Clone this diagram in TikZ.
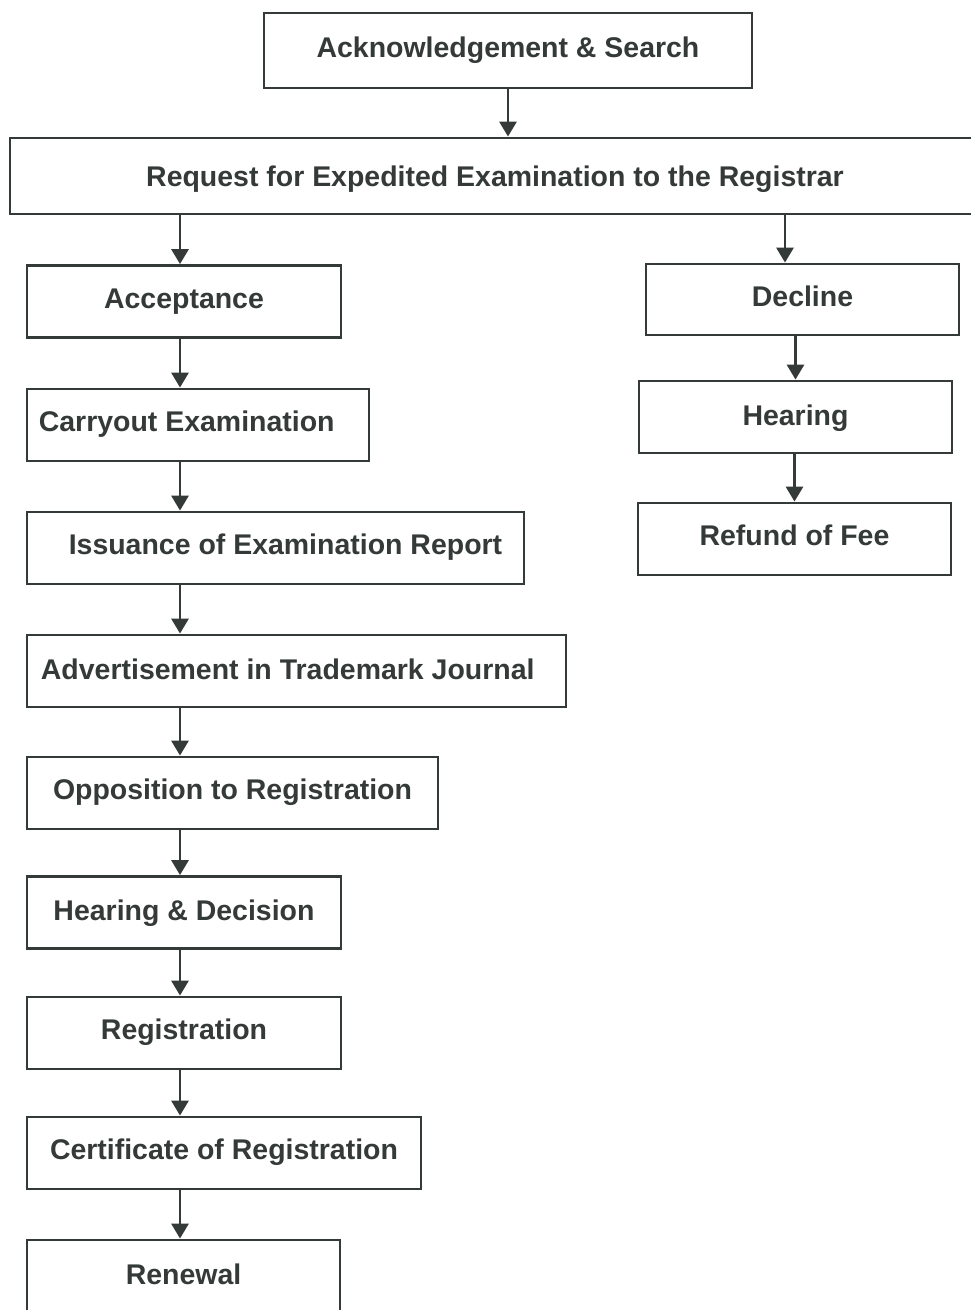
\documentclass[tikz,border=0pt]{standalone}
\usepackage{fontspec}
\setmainfont{Liberation Sans}
\usetikzlibrary{arrows.meta}
\definecolor{inkgrey}{RGB}{52,58,56}

\begin{document}
\begin{tikzpicture}[every node/.style={transform shape},
    box/.style={rectangle,draw=inkgrey,line width=1.6pt,text=inkgrey,
      minimum height=1.44cm,align=center,inner sep=0pt,text height=12pt,text depth=4.4pt,
      font=\fontsize{16.2}{19}\selectfont\bfseries},
    arrow/.style={-{Triangle[length=0.3cm,width=0.34cm]},draw=inkgrey,line width=1.6pt}]
    \useasboundingbox (0,0) rectangle (19.42,-26.2);
    % top of the chart
    \node[box,minimum width=9.76cm,minimum height=1.5cm] (ack) at (10.16,-1.01) {Acknowledgement \& Search};
    \node[box,minimum width=19.4cm,minimum height=1.52cm,text depth=0pt] (req) at (9.9,-3.52) {Request for Expedited Examination to the Registrar};
    % left column
    \node[box,minimum width=6.28cm] (acc) at (3.68,-6.03) {Acceptance};
    \node[box,minimum width=6.84cm] (carry) at (3.96,-8.5) {Carryout Examination\hspace*{0.45cm}};
    \node[box,minimum width=9.94cm] (iss) at (5.51,-10.96) {\hspace*{0.4cm}Issuance of Examination Report};
    \node[box,minimum width=10.78cm,text depth=2.6pt] (adv) at (5.93,-13.42) {Advertisement in Trademark Journal\hspace*{0.35cm}};
    \node[box,minimum width=8.22cm] (opp) at (4.65,-15.86) {Opposition to Registration};
    \node[box,minimum width=6.28cm,text depth=2.6pt] (hdec) at (3.68,-18.25) {Hearing \& Decision};
    \node[box,minimum width=6.28cm] (reg) at (3.68,-20.66) {Registration};
    \node[box,minimum width=7.88cm] (cert) at (4.48,-23.06) {Certificate of Registration};
    \node[box,minimum width=6.26cm,text depth=2.6pt] (ren) at (3.67,-25.52) {Renewal};
    % right column
    \node[box,minimum width=6.26cm,minimum height=1.42cm] (dec) at (16.05,-5.99) {Decline};
    \node[box,minimum width=6.26cm,text depth=2.6pt] (hear) at (15.91,-8.34) {Hearing};
    \node[box,minimum width=6.26cm] (refund) at (15.89,-10.78) {Refund of Fee};
    % arrows
    \coordinate (lx) at (3.6,0);
    \draw[arrow] (ack.south) -- (ack.south |- req.north);
    \draw[arrow] (req.south -| lx) -- (acc.north -| lx);
    \draw[arrow] (acc.south -| lx) -- (carry.north -| lx);
    \draw[arrow] (carry.south -| lx) -- (iss.north -| lx);
    \draw[arrow] (iss.south -| lx) -- (adv.north -| lx);
    \draw[arrow] (adv.south -| lx) -- (opp.north -| lx);
    \draw[arrow] (opp.south -| lx) -- (hdec.north -| lx);
    \draw[arrow] (hdec.south -| lx) -- (reg.north -| lx);
    \draw[arrow] (reg.south -| lx) -- (cert.north -| lx);
    \draw[arrow] (cert.south -| lx) -- (ren.north -| lx);
    \draw[arrow] ([xshift=-0.35cm]req.south -| dec.north) -- ([xshift=-0.35cm]dec.north);
    \draw[arrow] (dec.south -| hear.north) -- (hear.north);
    \draw[arrow] (hear.south -| refund.north) -- (refund.north);
\end{tikzpicture}
\end{document}
